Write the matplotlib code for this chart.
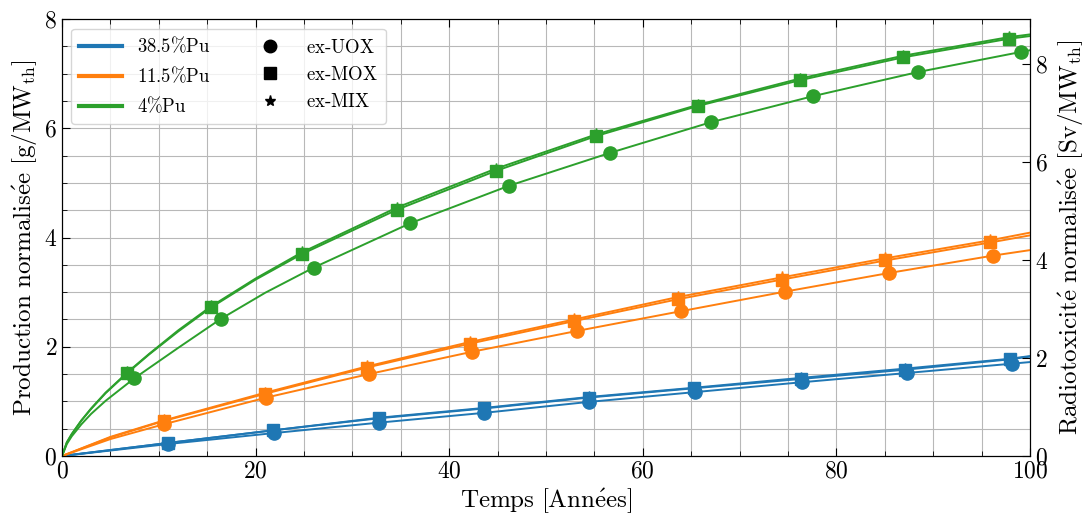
import numpy as np
import matplotlib
matplotlib.use("Agg")
import matplotlib.pyplot as plt
from matplotlib.lines import Line2D
from matplotlib.ticker import MultipleLocator

# ------------------------------------------------------------
# Donnees : points marques + points de trace
# ------------------------------------------------------------
# 38.5%Pu
x_mox_385 = [11.0, 21.8, 32.7, 43.6, 54.4, 65.3, 76.3, 87.1, 97.9]
y_mox_385 = [0.24, 0.47, 0.69, 0.87, 1.07, 1.24, 1.41, 1.58, 1.77]
x_mix_385 = [11.0, 21.8, 32.7, 43.6, 54.4, 65.3, 76.3, 87.1, 97.9]
y_mix_385 = [0.24, 0.47, 0.70, 0.88, 1.08, 1.25, 1.43, 1.60, 1.78]
x_uox_385 = [11.0, 21.9, 32.7, 43.6, 54.4, 65.4, 76.4, 87.3, 98.1]
y_uox_385 = [0.22, 0.42, 0.61, 0.79, 0.99, 1.17, 1.35, 1.52, 1.69]
ext_x_385 = [0, 100]
ext_mox_385 = [0, 1.82]
ext_mix_385 = [0, 1.83]
ext_uox_385 = [0, 1.72]

# 11.5%Pu
x_mox_115 = [10.5, 21.0, 31.5, 42.2, 52.9, 63.6, 74.35, 85.05, 95.9]
y_mox_115 = [0.64, 1.14, 1.62, 2.06, 2.47, 2.87, 3.23, 3.58, 3.91]
x_mix_115 = [10.5, 21.0, 31.5, 42.2, 52.9, 63.6, 74.35, 85.05, 95.9]
y_mix_115 = [0.65, 1.16, 1.64, 2.09, 2.50, 2.91, 3.27, 3.62, 3.95]
x_uox_115 = [10.5, 21.1, 31.7, 42.4, 53.2, 63.9, 74.7, 85.4, 96.2]
y_uox_115 = [0.58, 1.07, 1.50, 1.91, 2.29, 2.65, 3.01, 3.35, 3.67]
ext_x_115 = [0, 5, 100]
ext_mox_115 = [0, 0.34, 4.04]
ext_mix_115 = [0, 0.35, 4.09]
ext_uox_115 = [0, 0.31, 3.77]

# 4%Pu
x_mox_4 = [6.75, 15.4, 24.8, 34.6, 44.8, 55.2, 65.7, 76.2, 86.9, 97.8]
y_mox_4 = [1.52, 2.72, 3.70, 4.51, 5.22, 5.86, 6.41, 6.88, 7.30, 7.64]
x_mix_4 = [6.75, 15.4, 24.8, 34.6, 44.8, 55.2, 65.7, 76.2, 86.9, 97.8]
y_mix_4 = [1.53, 2.74, 3.73, 4.55, 5.26, 5.89, 6.43, 6.91, 7.33, 7.67]
x_uox_4 = [7.45, 16.4, 26.0, 35.95, 46.2, 56.6, 67.0, 77.6, 88.4, 99.1]
y_uox_4 = [1.42, 2.51, 3.45, 4.26, 4.95, 5.55, 6.11, 6.59, 7.03, 7.40]
ext_x_mox_4 = [0, 0.5, 1, 2, 3, 4.5, 9, 12, 20, 100]
ext_mox_4 = [0, 0.25, 0.40, 0.65, 0.86, 1.15, 1.86, 2.28, 3.23, 7.69]
ext_mix_4 = [0, 0.25, 0.40, 0.65, 0.87, 1.16, 1.87, 2.30, 3.25, 7.72]
ext_x_uox_4 = [0, 0.5, 1, 2, 3, 4.5, 12, 21, 100]
ext_uox_4 = [0, 0.22, 0.36, 0.58, 0.77, 1.01, 1.98, 2.99, 7.43]

# ------------------------------------------------------------
# Style
# ------------------------------------------------------------
plt.rcParams['font.family'] = ['cmr10', 'DejaVu Serif']
plt.rcParams['mathtext.fontset'] = 'cm'
plt.rcParams['axes.formatter.use_mathtext'] = True
plt.rcParams['axes.unicode_minus'] = False

c_385 = '#1f77b4'
c_115 = '#ff7f0e'
c_4 = '#2ca02c'


def courbe(ax, xm, ym, xe, ye, color, marker, ms, lw=1.4):
    # trace la ligne (points marques + points supplementaires) puis les marqueurs
    xs = np.concatenate([xm, xe])
    ys = np.concatenate([ym, ye])
    o = np.argsort(xs)
    ax.plot(xs[o], ys[o], color=color, lw=lw, zorder=3)
    ax.plot(xm, ym, ls='none', marker=marker, ms=ms, color=color, zorder=4)


fig, ax = plt.subplots(figsize=(10.86, 5.17), dpi=100)
fig.subplots_adjust(left=0.0571, right=0.9484, top=0.963, bottom=0.118)

for (xu, yu, xeu, eu, xmo, ymo, xmi, ymi, xem, emo, emi, col) in [
    (x_uox_385, y_uox_385, ext_x_385, ext_uox_385,
     x_mox_385, y_mox_385, x_mix_385, y_mix_385, ext_x_385, ext_mox_385, ext_mix_385, c_385),
    (x_uox_115, y_uox_115, ext_x_115, ext_uox_115,
     x_mox_115, y_mox_115, x_mix_115, y_mix_115, ext_x_115, ext_mox_115, ext_mix_115, c_115),
    (x_uox_4, y_uox_4, ext_x_uox_4, ext_uox_4,
     x_mox_4, y_mox_4, x_mix_4, y_mix_4, ext_x_mox_4, ext_mox_4, ext_mix_4, c_4),
]:
    courbe(ax, xu, yu, xeu, eu, col, 'o', 9.5)
    courbe(ax, xmi, ymi, xem, emi, col, '*', 9)
    courbe(ax, xmo, ymo, xem, emo, col, 's', 8.5)

ax.set_xlim(0, 100)
ax.set_ylim(0, 8)
ax.xaxis.set_major_locator(MultipleLocator(20))
ax.xaxis.set_minor_locator(MultipleLocator(5))
ax.yaxis.set_major_locator(MultipleLocator(2))
ax.yaxis.set_minor_locator(MultipleLocator(0.5))
ax.tick_params(which='both', direction='in', top=True, right=False, labelsize=17)
ax.tick_params(which='major', length=6)
ax.tick_params(which='minor', length=3.5)
ax.grid(True, which='both', color='0.72', lw=0.8, zorder=0)
ax.set_axisbelow(True)

ax.set_xlabel(r'$\mathrm{Temps\ [Ann\acute{e}es]}$', fontsize=18, labelpad=2)
ax.set_ylabel(r'$\mathrm{Production\ normalis\acute{e}e\ [g/MW_{th}]}$', fontsize=18, labelpad=4)

ax2 = ax.twinx()
ax2.set_ylim(0, 8.92)
ax2.yaxis.set_major_locator(MultipleLocator(2))
ax2.tick_params(direction='in', length=6, labelsize=17)
ax2.set_ylabel(r'$\mathrm{Radiotoxicit\acute{e}\ normalis\acute{e}e\ [Sv/MW_{th}]}$', fontsize=18, labelpad=6)

# ------------------------------------------------------------
# Legende
# ------------------------------------------------------------
handles = [
    Line2D([0], [0], color=c_385, lw=3, label=r'$\mathrm{38.5\%Pu}$'),
    Line2D([0], [0], color=c_115, lw=3, label=r'$\mathrm{11.5\%Pu}$'),
    Line2D([0], [0], color=c_4, lw=3, label=r'$\mathrm{4\%Pu}$'),
    Line2D([0], [0], ls='none', marker='o', ms=9, color='black', label=r'$\mathrm{ex}$-$\mathrm{UOX}$'),
    Line2D([0], [0], ls='none', marker='s', ms=8.5, color='black', label=r'$\mathrm{ex}$-$\mathrm{MOX}$'),
    Line2D([0], [0], ls='none', marker='*', ms=8, color='black', label=r'$\mathrm{ex}$-$\mathrm{MIX}$'),
]
ax.legend(handles=handles, ncol=2, loc='upper left', fontsize=13.5,
          handlelength=2.3, borderaxespad=0.5, columnspacing=2.0)

fig.savefig('out.png', dpi=100)
